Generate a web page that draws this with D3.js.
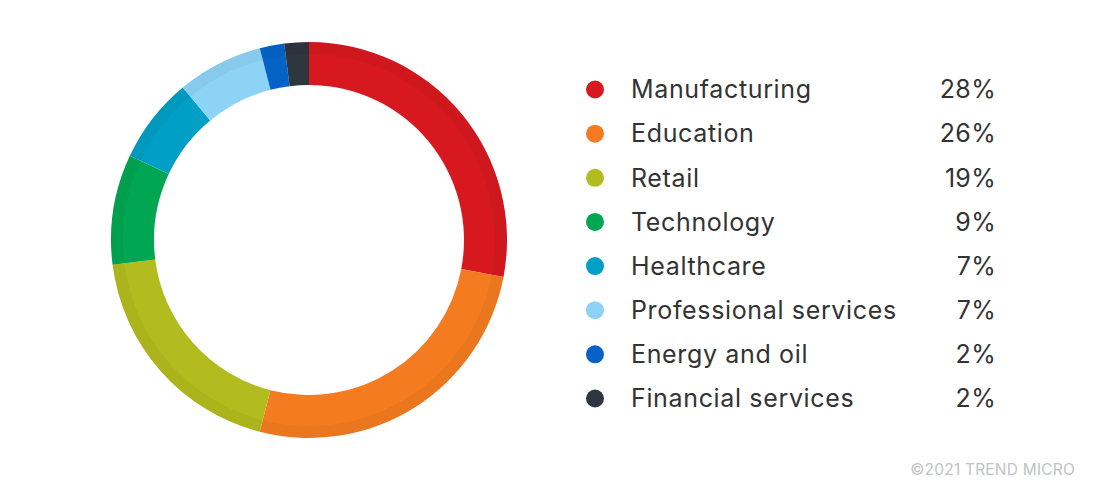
<!DOCTYPE html>
<html>
<head>
<meta charset="utf-8">
<script src="https://cdn.jsdelivr.net/npm/d3@7/dist/d3.min.js"></script>
<style>
html,body{margin:0;padding:0;background:#fff;}
svg{display:block;}
</style>
</head>
<body>
<svg id="chart" width="1108" height="495"></svg>
<script>
const categories = ["Manufacturing","Education","Retail","Technology","Healthcare","Professional services","Energy and oil","Financial services"];
const values = [28,26,19,9,7,7,2,2];
const labels = ["28%","26%","19%","9%","7%","7%","2%","2%"];
const colors = ["#D7191F","#F47B20","#B3BC1E","#00A651","#00A0C6","#8DD3F5","#0563C8","#2E3640"];
const footer = "©2021 TREND MICRO";

const svg = d3.select("#chart");
const W = 1108, H = 495;
const cx = 309, cy = 240, rOuter = 198, rInner = 155;

const data = categories.map((c,i)=>({name:c,value:values[i],label:labels[i],color:colors[i]}));
const pie = d3.pie().value(d=>d.value).sort(null);
const arcs = pie(data);
const arc = d3.arc().innerRadius(rInner).outerRadius(rOuter);
const arcBand = d3.arc().innerRadius(186).outerRadius(rOuter);

const g = svg.append("g").attr("transform",`translate(${cx},${cy})`);
g.selectAll("path.seg").data(arcs).join("path")
  .attr("class","seg")
  .attr("d",arc)
  .attr("fill",d=>d.data.color);
g.selectAll("path.band").data(arcs).join("path")
  .attr("class","band")
  .attr("d",arcBand)
  .attr("fill","#000")
  .attr("fill-opacity",0.04);

// legend
const y = d3.scalePoint().domain(categories).range([89.5,398.5]);
const lg = svg.append("g");
const rows = lg.selectAll("g").data(data).join("g")
  .attr("transform",d=>`translate(0,${y(d.name)})`);
rows.append("circle").attr("cx",595).attr("cy",0).attr("r",9).attr("fill",d=>d.color);
rows.append("text").attr("x",631).attr("y",0).attr("dy","0.35em")
  .attr("font-family","Inter, 'Noto Sans', sans-serif").attr("font-size",25)
  .attr("letter-spacing","0.65px")
  .attr("fill","#333").text(d=>d.name);
rows.append("text").attr("x",996).attr("y",0).attr("dy","0.35em")
  .attr("text-anchor","end")
  .attr("font-family","Inter, 'Noto Sans', sans-serif").attr("font-size",25)
  .attr("letter-spacing","0.3px")
  .attr("fill","#333").text(d=>d.label);

svg.append("text").attr("x",1075).attr("y",470).attr("dy","0.35em")
  .attr("text-anchor","end")
  .attr("font-family","Inter, 'Noto Sans', sans-serif").attr("font-size",15.5)
  .attr("letter-spacing","0.2px")
  .attr("fill","#C0C4C5").text(footer);
</script>
</body>
</html>
